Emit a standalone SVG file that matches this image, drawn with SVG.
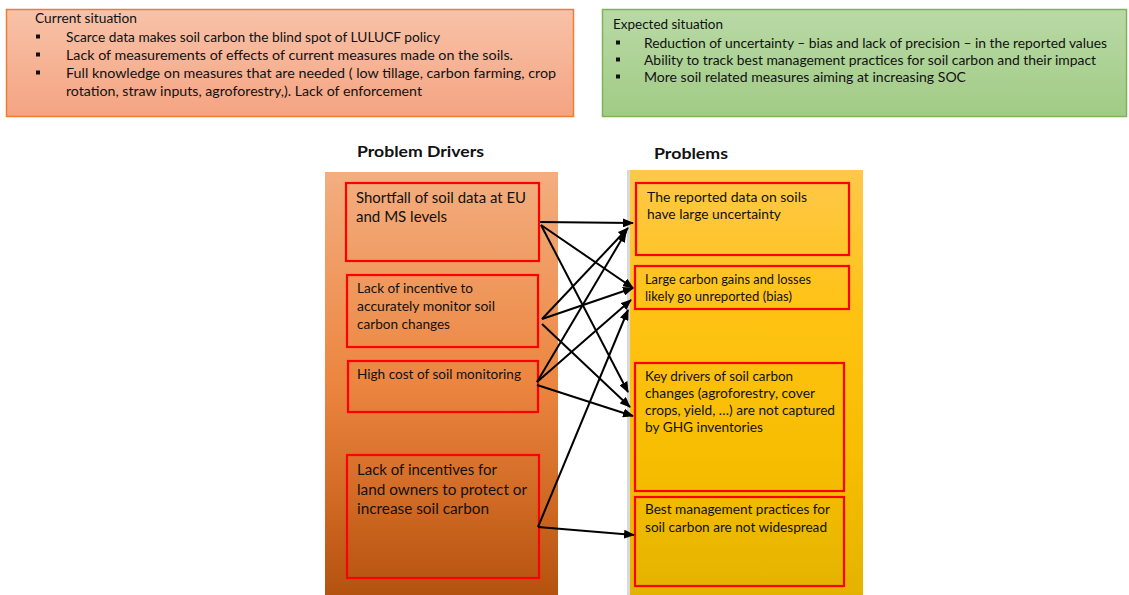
<svg xmlns="http://www.w3.org/2000/svg" width="1129" height="595" viewBox="0 0 1129 595">
<defs>
<linearGradient id="gTL" x1="0" y1="0" x2="0" y2="1"><stop offset="0" stop-color="#f8c2a8"/><stop offset="1" stop-color="#f4a482"/></linearGradient>
<linearGradient id="gTR" x1="0" y1="0" x2="0" y2="1"><stop offset="0" stop-color="#b9d9a6"/><stop offset="1" stop-color="#a1cb85"/></linearGradient>
<linearGradient id="gL" x1="0" y1="0" x2="0" y2="1"><stop offset="0" stop-color="#f3ae80"/><stop offset="0.5" stop-color="#ec853f"/><stop offset="0.75" stop-color="#d36c26"/><stop offset="1" stop-color="#b4520f"/></linearGradient>
<linearGradient id="gR" x1="0" y1="0" x2="0" y2="1"><stop offset="0" stop-color="#ffc84a"/><stop offset="0.35" stop-color="#ffc212"/><stop offset="0.7" stop-color="#f6bd00"/><stop offset="1" stop-color="#e4b300"/></linearGradient>
<marker id="ah" markerWidth="11" markerHeight="9" refX="10" refY="4.5" orient="auto" markerUnits="userSpaceOnUse"><path d="M0,0 L11,4.5 L0,9 z" fill="#000"/></marker>
</defs>
<style>
text{font-family:Lato,"Liberation Sans",sans-serif;fill:#111}
.t{font-size:13.5px}
.h{font-size:16px;font-weight:bold}
.red{fill:none;stroke:#ff0000;stroke-width:2.2}
.bul{fill:#111}
.c line{stroke:#000;stroke-width:2;marker-end:url(#ah)}
</style>
<rect width="1129" height="595" fill="#fff"/>

<g id="current-situation">
<rect x="6.5" y="9.5" width="567" height="107" fill="url(#gTL)" stroke="#ed7d31" stroke-width="1.5"/>
<text class="t" x="35" y="23" textLength="102" lengthAdjust="spacingAndGlyphs">Current situation</text>
<rect class="bul" x="36" y="34.5" width="4" height="4"/>
<rect class="bul" x="36" y="52.5" width="4" height="4"/>
<rect class="bul" x="36" y="70.5" width="4" height="4"/>
<text class="t" x="66" y="42" textLength="374" lengthAdjust="spacingAndGlyphs">Scarce data makes soil carbon the blind spot of LULUCF policy</text>
<text class="t" x="66" y="60" textLength="447" lengthAdjust="spacingAndGlyphs">Lack of  measurements  of  effects of  current measures made on the soils.</text>
<text class="t" x="66" y="78" textLength="490" lengthAdjust="spacingAndGlyphs">Full  knowledge  on  measures that are needed ( low tillage, carbon farming, crop</text>
<text class="t" x="66" y="96" textLength="356" lengthAdjust="spacingAndGlyphs">rotation, straw inputs,   agroforestry,).  Lack of enforcement</text>
</g>

<g id="expected-situation">
<rect x="602.5" y="9.5" width="524" height="107" fill="url(#gTR)" stroke="#7db45a" stroke-width="1.5"/>
<text class="t" x="613" y="29" textLength="110" lengthAdjust="spacingAndGlyphs">Expected situation</text>
<rect class="bul" x="616" y="40.5" width="4" height="4"/>
<rect class="bul" x="616" y="57.5" width="4" height="4"/>
<rect class="bul" x="616" y="74.5" width="4" height="4"/>
<text class="t" x="644" y="48" textLength="463" lengthAdjust="spacingAndGlyphs">Reduction of uncertainty  – bias and lack of precision – in the reported values</text>
<text class="t" x="644" y="65" textLength="452" lengthAdjust="spacingAndGlyphs">Ability to track best management practices for soil carbon and their impact</text>
<text class="t" x="644" y="82" textLength="322" lengthAdjust="spacingAndGlyphs">More soil related measures aiming at increasing  SOC</text>
</g>

<g id="problem-drivers-column">
<text class="h" x="357" y="157" textLength="127" lengthAdjust="spacingAndGlyphs">Problem Drivers</text>
<rect x="325" y="172" width="233" height="423" fill="url(#gL)"/>
</g>

<g id="problems-column">
<text class="h" x="654" y="159" textLength="74" lengthAdjust="spacingAndGlyphs">Problems</text>
<rect x="627" y="170" width="3" height="425" fill="#d9d9d9"/>
<rect x="630" y="170" width="233" height="425" fill="url(#gR)"/>
</g>

<g id="driver-1">
<rect class="red" x="346" y="183" width="193" height="78"/>
<text x="356" y="203" font-size="15" textLength="170" lengthAdjust="spacingAndGlyphs">Shortfall of soil data at EU</text>
<text x="356" y="222" font-size="15" textLength="91" lengthAdjust="spacingAndGlyphs">and MS levels</text>
</g>
<g id="driver-2">
<rect class="red" x="347" y="275" width="191" height="72"/>
<text x="357" y="293" font-size="14" textLength="116" lengthAdjust="spacingAndGlyphs">Lack of incentive  to</text>
<text x="357" y="311" font-size="14" textLength="138" lengthAdjust="spacingAndGlyphs">accurately monitor soil</text>
<text x="357" y="329" font-size="14" textLength="93" lengthAdjust="spacingAndGlyphs">carbon changes</text>
</g>
<g id="driver-3">
<rect class="red" x="348" y="361" width="190" height="51"/>
<text x="357" y="379" font-size="14" textLength="164" lengthAdjust="spacingAndGlyphs">High  cost of soil monitoring</text>
</g>
<g id="driver-4">
<rect class="red" x="347" y="455" width="192" height="123"/>
<text x="357" y="475" font-size="15.5" textLength="140" lengthAdjust="spacingAndGlyphs">Lack of incentives for</text>
<text x="357" y="495" font-size="15.5" textLength="170" lengthAdjust="spacingAndGlyphs">land owners to protect or</text>
<text x="357" y="514" font-size="15.5" textLength="132" lengthAdjust="spacingAndGlyphs">increase soil carbon</text>
</g>

<g id="problem-1">
<rect class="red" x="636" y="183" width="213" height="72"/>
<text x="647" y="202" font-size="13.5" textLength="160" lengthAdjust="spacingAndGlyphs">The reported  data on soils</text>
<text x="647" y="219" font-size="13.5" textLength="134" lengthAdjust="spacingAndGlyphs">have large  uncertainty</text>
</g>
<g id="problem-2">
<rect class="red" x="635" y="266" width="214" height="43"/>
<text x="645" y="284" font-size="13.5" textLength="166" lengthAdjust="spacingAndGlyphs">Large carbon gains and losses</text>
<text x="645" y="301" font-size="13.5" textLength="147" lengthAdjust="spacingAndGlyphs">likely go unreported (bias)</text>
</g>
<g id="problem-3">
<rect class="red" x="635" y="363" width="209" height="128"/>
<text x="645" y="381" font-size="13.5" textLength="148" lengthAdjust="spacingAndGlyphs">Key drivers of soil carbon</text>
<text x="645" y="398" font-size="13.5" textLength="170" lengthAdjust="spacingAndGlyphs">changes (agroforestry, cover</text>
<text x="645" y="415" font-size="13.5" textLength="190" lengthAdjust="spacingAndGlyphs">crops, yield, …) are not captured</text>
<text x="645" y="432" font-size="13.5" textLength="118" lengthAdjust="spacingAndGlyphs">by  GHG inventories</text>
</g>
<g id="problem-4">
<rect class="red" x="635" y="497" width="209" height="89"/>
<text x="645" y="514" font-size="13.5" textLength="185" lengthAdjust="spacingAndGlyphs">Best management practices for</text>
<text x="645" y="532" font-size="13.5" textLength="182" lengthAdjust="spacingAndGlyphs">soil carbon are not widespread</text>
</g>

<g id="connectors" class="c">
<line x1="540" y1="222" x2="633" y2="223"/>
<line x1="541" y1="225" x2="633" y2="288"/>
<line x1="541" y1="225" x2="628" y2="392"/>
<line x1="542" y1="319" x2="628" y2="228"/>
<line x1="542" y1="319" x2="633" y2="288"/>
<line x1="542" y1="324" x2="630" y2="407"/>
<line x1="537" y1="382" x2="626" y2="232"/>
<line x1="537" y1="382" x2="631" y2="300"/>
<line x1="537" y1="385" x2="633" y2="416"/>
<line x1="538" y1="527" x2="628" y2="310"/>
<line x1="538" y1="527" x2="634" y2="535"/>
</g>
</svg>
